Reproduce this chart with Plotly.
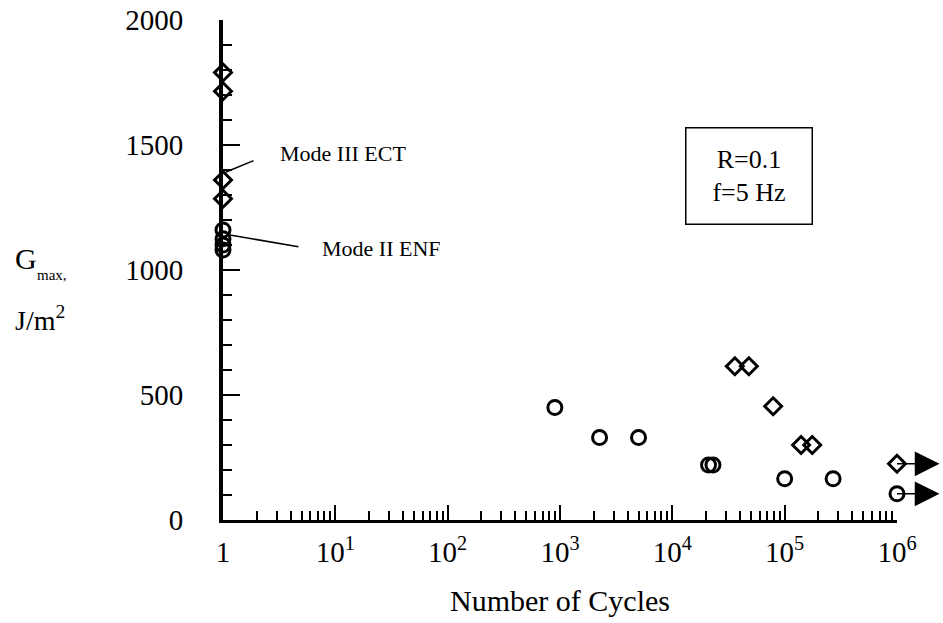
import numpy as np
import plotly.graph_objects as go

# ---------------- data ----------------
# Mode III ECT (open diamonds)
ect_cycles = [1, 1, 1, 1, 36000, 48000, 79000, 140000, 176000, 1e6]
ect_gmax = [1790, 1715, 1360, 1285, 615, 615, 455, 300, 300, 225]

# Mode II ENF (open circles)
enf_cycles = [1, 1, 1, 1, 900, 2250, 5000, 21000, 23000, 100000, 270000, 1e6]
enf_gmax = [1160, 1125, 1100, 1080, 450, 330, 330, 220, 220, 165, 165, 105]

# run-out specimens (no failure at 10^6 cycles)
runout_cycles = [1e6, 1e6]
runout_gmax = [225, 105]

x_tickvals = [1, 10, 100, 1000, 1e4, 1e5, 1e6]
x_ticktext = ["1", "10<sup>1</sup>", "10<sup>2</sup>", "10<sup>3</sup>",
              "10<sup>4</sup>", "10<sup>5</sup>", "10<sup>6</sup>"]
y_tickvals = [0, 500, 1000, 1500, 2000]
y_ticktext = ["0", "500", "1000", "1500", "2000"]

FONT = "Liberation Serif, Times New Roman, serif"

fig = go.Figure()
fig.add_trace(go.Scatter(
    x=ect_cycles, y=ect_gmax, mode="markers", name="Mode III ECT",
    marker=dict(symbol="diamond-open", size=13, color="black", line=dict(width=3, color="black")),
    cliponaxis=False, showlegend=False))
fig.add_trace(go.Scatter(
    x=enf_cycles, y=enf_gmax, mode="markers", name="Mode II ENF",
    marker=dict(symbol="circle-open", size=14, color="black", line=dict(width=3, color="black")),
    cliponaxis=False, showlegend=False))

annotations = []
# run-out arrows
for c, g in zip(runout_cycles, runout_gmax):
    annotations.append(dict(
        x=np.log10(c), y=g, xref="x", yref="y", text="", showarrow=True,
        ax=44, ay=0, axref="pixel", ayref="pixel",
        arrowside="start", startarrowhead=2, startarrowsize=3.3, arrowwidth=1.5,
        arrowcolor="black"))

# labels with leader lines
annotations += [
    dict(x=0.49, y=1468, xref="x", yref="y", text="Mode III ECT", showarrow=False,
         xanchor="left", yanchor="middle", font=dict(family=FONT, size=22, color="black")),
    dict(x=0.027, y=1392, xref="x", yref="y", text="", showarrow=True,
         ax=29, ay=-12, arrowhead=0, arrowwidth=1.5, arrowcolor="black"),
    dict(x=0.864, y=1088, xref="x", yref="y", text="Mode II ENF", showarrow=False,
         xanchor="left", yanchor="middle", font=dict(family=FONT, size=22, color="black")),
    dict(x=0.062, y=1140, xref="x", yref="y", text="", showarrow=True,
         ax=70, ay=12, arrowhead=0, arrowwidth=1.5, arrowcolor="black"),
    # condition box
    dict(x=0.78, y=0.687, xref="paper", yref="paper", text="R=0.1<br>f=5 Hz",
         showarrow=False, xanchor="center", yanchor="middle", align="center",
         width=121, height=91, bordercolor="black", borderwidth=1.5, borderpad=2,
         bgcolor="white", font=dict(family=FONT, size=26, color="black")),
    # y-axis title
    dict(x=-0.3116, y=0.524, xref="paper", yref="paper", text="G", showarrow=False,
         xanchor="left", yanchor="middle", font=dict(family=FONT, size=30, color="black")),
    dict(x=-0.279, y=0.49, xref="paper", yref="paper", text="max,", showarrow=False,
         xanchor="left", yanchor="middle", font=dict(family=FONT, size=15, color="black")),
    dict(x=-0.3116, y=0.404, xref="paper", yref="paper", text="J/m<sup>2</sup>", showarrow=False,
         xanchor="left", yanchor="middle", font=dict(family=FONT, size=28, color="black")),
]

minor_x = [m * 10 ** k for k in range(6) for m in range(2, 10)]

fig.update_layout(
    width=943, height=623,
    margin=dict(l=223, r=46, t=20, b=103),
    paper_bgcolor="white", plot_bgcolor="white",
    font=dict(family=FONT, color="black"),
    annotations=annotations,
    xaxis=dict(
        type="log", range=[0, 6], tickmode="array", tickvals=x_tickvals, ticktext=x_ticktext,
        ticks="inside", ticklen=15, tickwidth=2, tickcolor="black",
        minor=dict(tickmode="array", tickvals=minor_x, ticks="inside", ticklen=9,
                   tickwidth=1.5, tickcolor="black", showgrid=False),
        showline=True, linewidth=3, linecolor="black", showgrid=False, zeroline=False,
        tickfont=dict(family=FONT, size=29, color="black"), ticklabelstandoff=4,
        ticklabeloverflow="allow", automargin=False,
        title=dict(text="Number of Cycles", font=dict(family=FONT, size=30, color="black"), standoff=24),
    ),
    yaxis=dict(
        range=[0, 2000], tickmode="array", tickvals=y_tickvals, ticktext=y_ticktext,
        ticks="inside", ticklen=17, tickwidth=2, tickcolor="black",
        minor=dict(dtick=100, ticks="inside", ticklen=9, tickwidth=2, tickcolor="black", showgrid=False),
        showline=True, linewidth=4, linecolor="black", showgrid=False, zeroline=False,
        tickfont=dict(family=FONT, size=29, color="black"), ticklabelstandoff=30,
        ticklabeloverflow="allow", automargin=False,
    ),
)

fig.write_html("out.html", config={"displayModeBar": False},
               post_script="document.body.style.margin='0';")
